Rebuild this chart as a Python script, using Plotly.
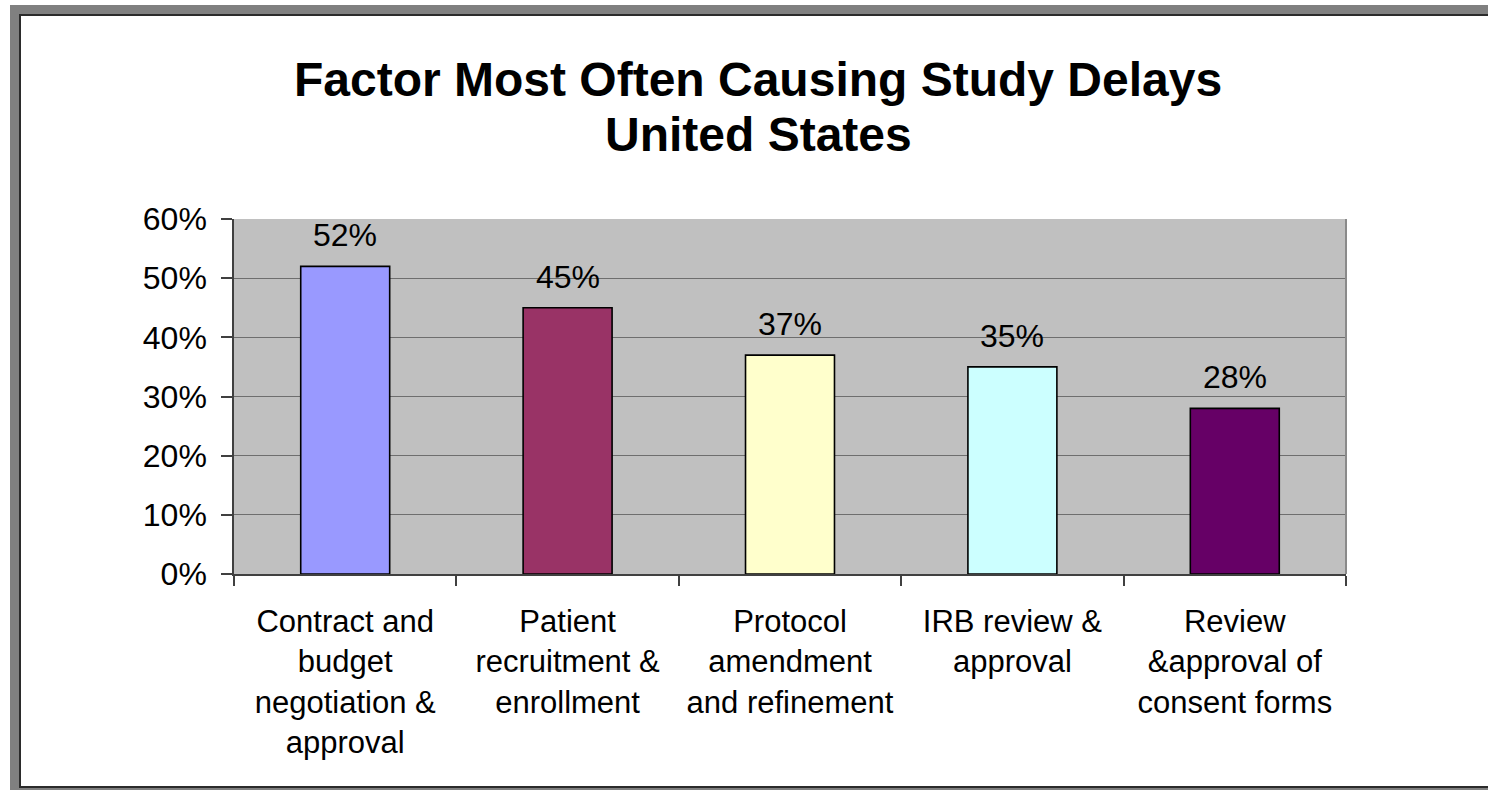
import plotly.graph_objects as go

# Survey results: factor most often causing study delays (United States)
categories = [
    "Contract and<br>budget<br>negotiation &<br>approval",
    "Patient<br>recruitment &<br>enrollment",
    "Protocol<br>amendment<br>and refinement",
    "IRB review &<br>approval",
    "Review<br>&approval of<br>consent forms",
]
values = [0.52, 0.45, 0.37, 0.35, 0.28]
bar_colors = ["#9999FF", "#993366", "#FFFFCC", "#CCFFFF", "#660066"]
title_lines = ["Factor Most Often Causing Study Delays", "United States"]

W, H = 1488, 790
# plot-area box in pixels
PL, PR, PT, PB = 234, 1346, 219, 574
FONT = "Liberation Sans, Arial, sans-serif"


def px_x(x):
    return (x - PL) / (PR - PL)


def px_y(y):
    return (PB - y) / (PB - PT)


fig = go.Figure()
fig.add_trace(
    go.Bar(
        x=categories,
        y=values,
        marker=dict(color=bar_colors, line=dict(color="#000000", width=1.6)),
        hoverinfo="skip",
    )
)

# value labels above each bar
annotations = []
for c, v in zip(categories, values):
    annotations.append(
        dict(
            x=c, y=v, xref="x", yref="y",
            text=f"{round(v * 100)}%",
            showarrow=False, yanchor="bottom", yshift=11,
            font=dict(family=FONT, size=32, color="#000000"),
        )
    )

# chart title, one annotation per line
for line, ypix in zip(title_lines, [79, 134]):
    annotations.append(
        dict(
            x=px_x(758), y=px_y(ypix), xref="paper", yref="paper",
            text=f"<b>{line}</b>",
            showarrow=False, xanchor="center", yanchor="middle",
            font=dict(family=FONT, size=48, color="#000000"),
        )
    )

# outer frame: gray band with a dark inner edge (left, top, bottom)
shapes = []
def rect(x0, y0, x1, y1, color):
    shapes.append(dict(
        type="rect", xref="paper", yref="paper",
        x0=px_x(x0), x1=px_x(x1), y0=px_y(y1), y1=px_y(y0),
        fillcolor=color, line=dict(width=0), layer="above",
    ))

rect(10, 5, W + 10, 14, "#808080")      # top band
rect(10, 5, 19, H, "#808080")           # left band
rect(10, 788, W + 10, H + 5, "#808080") # bottom band
rect(19, 14, W + 10, 16, "#2b2b2b")     # top dark edge
rect(19, 14, 21, 788, "#2b2b2b")        # left dark edge
rect(19, 786, W + 10, 788, "#2b2b2b")   # bottom dark edge

# right border of the plot area
shapes.append(dict(
    type="line", xref="paper", yref="paper",
    x0=1, x1=1, y0=0, y1=1,
    line=dict(color="#8a8a8a", width=2), layer="above",
))

fig.update_layout(
    width=W, height=H,
    margin=dict(l=PL, r=W - PR, t=PT, b=H - PB, pad=0),
    paper_bgcolor="#FFFFFF",
    plot_bgcolor="#C0C0C0",
    bargap=0.6,
    showlegend=False,
    annotations=annotations,
    shapes=shapes,
    font=dict(family=FONT, size=31, color="#000000"),
)

fig.update_xaxes(
    type="category",
    range=[-0.5, 4.5],
    showline=True, linecolor="#404040", linewidth=1.5,
    ticks="outside", tickson="boundaries", ticklen=10,
    tickcolor="#404040", tickwidth=1.5,
    ticklabelstandoff=19,
    tickfont=dict(family=FONT, size=31, color="#000000"),
    showgrid=False, zeroline=False, fixedrange=True,
)

fig.update_yaxes(
    range=[0, 0.6], dtick=0.1, tick0=0, tickformat=".0%",
    showline=True, linecolor="#404040", linewidth=1.5,
    ticks="outside", ticklen=11, tickcolor="#404040", tickwidth=1.5,
    ticklabelstandoff=8,
    tickfont=dict(family=FONT, size=32, color="#000000"),
    showgrid=True, gridcolor="#6e6e6e", gridwidth=1.2,
    zeroline=False, fixedrange=True,
)

fig.write_html("out.html", config={"displayModeBar": False})
